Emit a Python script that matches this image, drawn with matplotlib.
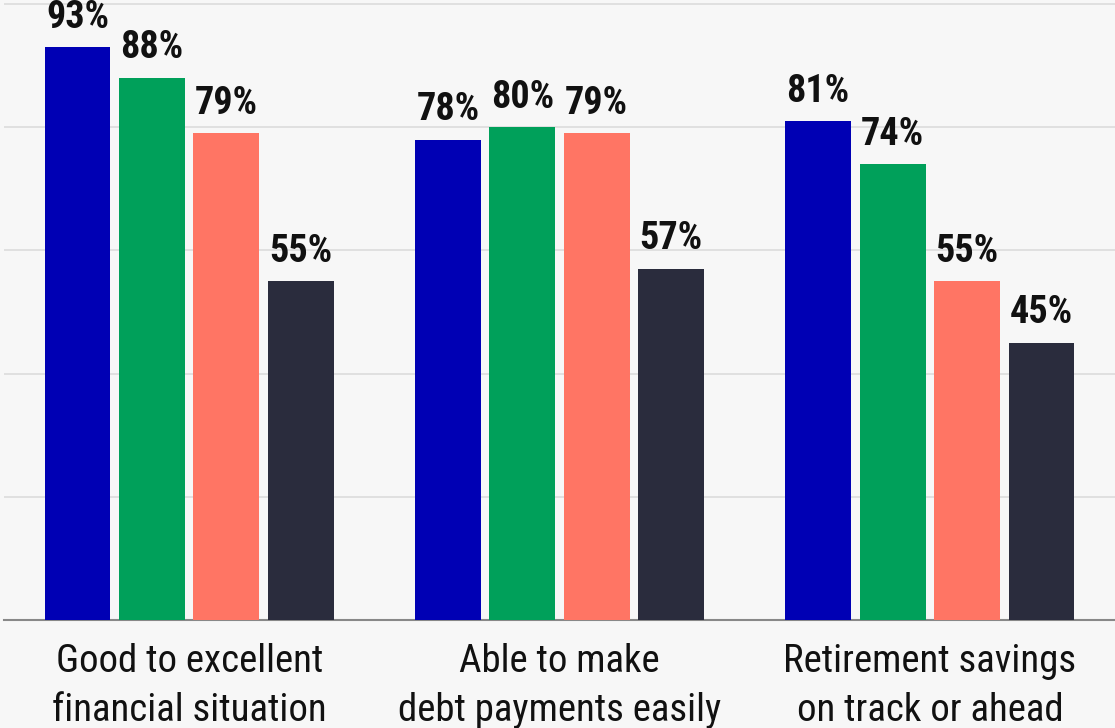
import matplotlib
matplotlib.use("Agg")
import matplotlib.pyplot as plt
import numpy as np

categories = ["Good to excellent\nfinancial situation",
              "Able to make\ndebt payments easily",
              "Retirement savings\non track or ahead"]
series_values = [
    [93, 78, 81],
    [88, 80, 74],
    [79, 79, 55],
    [55, 57, 45],
]
colors = ["#0000b4", "#00a05a", "#ff7564", "#2a2c3d"]

narrow = ["Roboto Condensed", "Roboto", "DejaVu Sans"]

fig = plt.figure(figsize=(11.15, 7.28), dpi=100, facecolor="#f7f7f7")
ax = fig.add_axes([4 / 1115, 108 / 728, 1 - 4 / 1115, 620 / 728])
ax.set_facecolor("#f7f7f7")

x = np.arange(len(categories))
step = 0.201
width = 0.178
for i, (vals, c) in enumerate(zip(series_values, colors)):
    pos = x + (i - 1.5) * step
    bars = ax.bar(pos, vals, width=width, color=c, zorder=3)
    for b, v in zip(bars, vals):
        ax.annotate(f"{v}%", (b.get_x() + b.get_width() / 2, v),
                    xytext=(0, 14), textcoords="offset points",
                    ha="center", va="baseline", fontsize=27.5,
                    fontweight="bold", family=narrow,
                    fontstretch="condensed", color="#111111", zorder=4,
                    annotation_clip=False)

ax.set_xlim(-0.5, 2.5)
ax.set_ylim(0, 100 * 620 / 616)
ax.set_yticks([20, 40, 60, 80, 100])
ax.yaxis.grid(True, color="#dcdcdc", linewidth=1.2, zorder=0)
ax.tick_params(left=False, labelleft=False, bottom=False)
for s in ["top", "right", "left"]:
    ax.spines[s].set_visible(False)
ax.spines["bottom"].set_color("#888888")
ax.spines["bottom"].set_linewidth(1.5)

ax.set_xticks(x)
ax.set_xticklabels(categories, fontsize=28, family=narrow,
                   fontstretch="condensed", color="#111111", linespacing=1.4)
ax.tick_params(axis="x", pad=13)

fig.savefig("out.png", dpi=100, facecolor=fig.get_facecolor())
